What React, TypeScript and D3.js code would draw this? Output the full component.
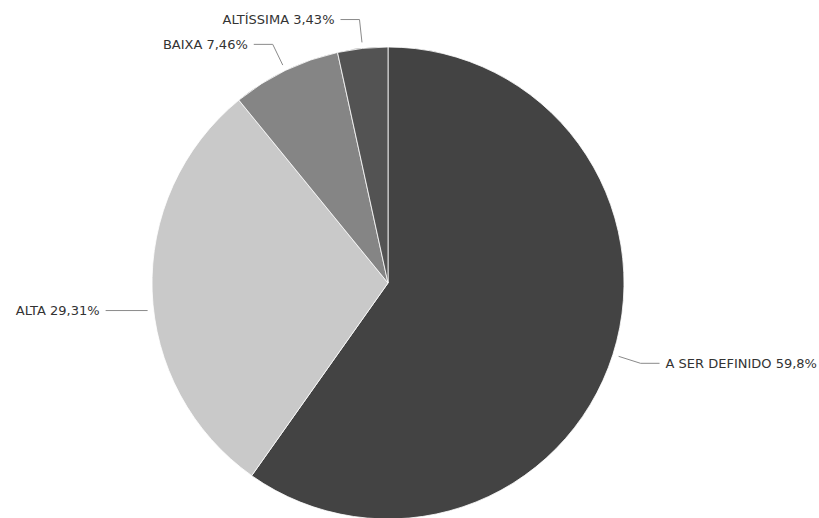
import React from "react";
import * as d3 from "d3";

const categories = ["A SER DEFINIDO", "ALTA", "BAIXA", "ALTÍSSIMA"];
const values = [59.8, 29.31, 7.46, 3.43];
const valueLabels = ["59,8%", "29,31%", "7,46%", "3,43%"];
const colors = ["#434343", "#c9c9c9", "#858585", "#535353"];

const W = 819;
const H = 518;
const cx = 388;
const cy = 283;
const R = 236;

export default function App() {
  const data = categories.map((c, i) => ({ c, v: values[i], label: `${c} ${valueLabels[i]}`, color: colors[i] }));
  const pie = d3.pie<any>().value((d: any) => d.v).sort(null);
  const arcs = pie(data);
  const arc = d3.arc<any>().innerRadius(0).outerRadius(R);

  const yNudge = [0, 19, 0, 0];

  return (
    <svg width={W} height={H} style={{ position: "absolute", left: 0, top: 0, background: "#fff" }}>
      <g transform={`translate(${cx},${cy})`}>
        {arcs.map((a, i) => (
          <path key={i} d={arc(a) || ""} fill={a.data.color} stroke="#ffffff" strokeWidth={0.8} />
        ))}
        {arcs.map((a, i) => {
          const mid = (a.startAngle + a.endAngle) / 2;
          const sx = Math.sin(mid);
          const sy = -Math.cos(mid);
          const right = sx > 0;
          let p1: [number, number], p2: [number, number];
          if (Math.abs(sy) < 0.2) {
            const y = sy * 250 + yNudge[i];
            const x0 = -Math.sqrt(R * R - y * y) - 6;
            p1 = [x0, y];
            p2 = [x0, y];
          } else {
            p1 = [sx * (R + 6), sy * (R + 6)];
            p2 = [sx * (R + 29), sy * (R + 29)];
          }
          const hl = Math.abs(sy) < 0.2 ? 42 : 19;
          const p3: [number, number] = [p2[0] + (right ? hl : -hl), p2[1]];
          const tx = p3[0] + (right ? 6 : -6);
          return (
            <g key={"l" + i}>
              <polyline
                points={[p1, p2, p3].map((p) => p.join(",")).join(" ")}
                fill="none"
                stroke="#8a8a8a"
                strokeWidth={1}
              />
              <text
                x={tx}
                y={p3[1]}
                dy="0.35em"
                textAnchor={right ? "start" : "end"}
                fontFamily="'DejaVu Sans', sans-serif"
                fontSize={13}
                fill="#333"
              >
                {a.data.label}
              </text>
            </g>
          );
        })}
      </g>
    </svg>
  );
}
